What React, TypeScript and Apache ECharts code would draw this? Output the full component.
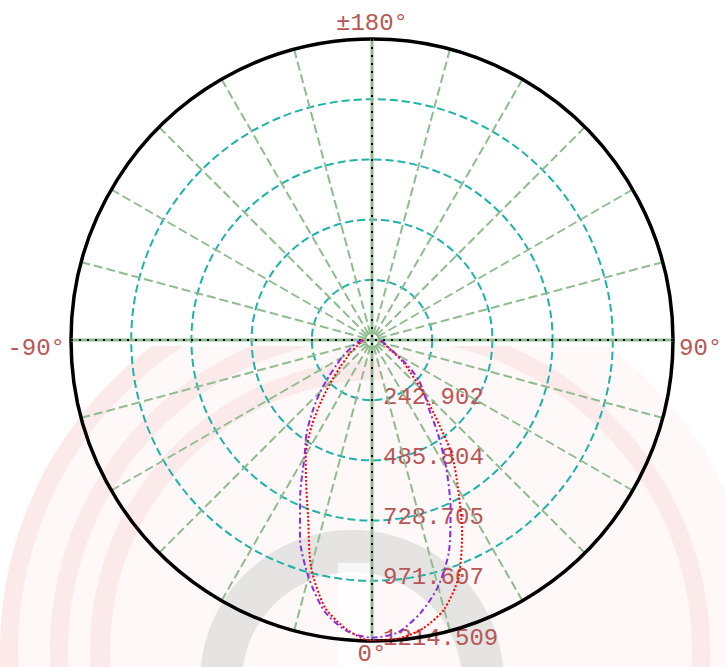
import React, { useEffect, useRef } from 'react';
import * as echarts from 'echarts';

// Angles in degrees (0 = downwards, +90 = right, -90 = left)
const ANGLES = [-90, -80, -70, -60, -55, -50, -45, -40, -35, -30, -25, -20, -15, -10, -5, 0, 5, 10, 15, 20, 25, 30, 35, 40, 45, 50, 55, 60, 70, 80, 90];
// Red dotted curve (intensity)
const RED = [35, 45, 60, 100, 125, 165, 225, 315, 425, 535, 630, 755, 950, 1095, 1172, 1214.509, 1210, 1182, 1125, 1020, 860, 695, 560, 390, 280, 200, 150, 100, 55, 40, 33];
// Purple dash-dot curve (intensity)
const PURPLE = [40, 60, 90, 140, 175, 225, 295, 372, 460, 545, 685, 850, 990, 1110, 1178, 1201, 1185, 1120, 1030, 908, 750, 600, 465, 354, 295, 240, 170, 110, 60, 45, 35];

const RADIUS_MAX = 1214.509;
const RING_STEP = RADIUS_MAX / 5;
const ANGLE_TICK_LABELS: Record<number, string> = { 0: '0°', 90: '90°', 180: '±180°', 270: '-90°' };

const LABEL_COLOR = '#b85656';
const FONT = '"Liberation Mono", "DejaVu Sans Mono", monospace';

const toPolar = (vals: number[]) => ANGLES.map((a, i) => [vals[i], a < 0 ? a + 360 : a]);

export default function App() {
  const ref = useRef<HTMLDivElement>(null);
  useEffect(() => {
    if (!ref.current) return;
    const chart = echarts.init(ref.current, null, { renderer: 'svg' });
    const wc = [380, 650];
    const pink = 'rgba(240,160,160,0.16)';
    const txt = { color: LABEL_COLOR, fontFamily: FONT, fontSize: 24 };
    chart.setOption({
      animation: false,
      backgroundColor: '#ffffff',
      graphic: {
        elements: [
          { type: 'circle', z: -100, silent: true, shape: { cx: wc[0], cy: wc[1], r: 380 }, style: { fill: 'rgba(245,190,190,0.10)' } },
          { type: 'sector', z: -99, silent: true, shape: { cx: wc[0], cy: wc[1], r0: 362, r: 380, startAngle: Math.PI * 0.5, endAngle: Math.PI * 1.5 }, style: { fill: pink } },
          { type: 'ring', z: -99, silent: true, shape: { cx: wc[0], cy: wc[1], r0: 312, r: 330 }, style: { fill: pink } },
          { type: 'sector', z: -99, silent: true, shape: { cx: wc[0], cy: wc[1], r0: 270, r: 290, startAngle: Math.PI * 0.5, endAngle: Math.PI * 1.5 }, style: { fill: pink } },
          { type: 'ring', z: -98, silent: true, shape: { cx: 352, cy: 682, r0: 110, r: 152 }, style: { fill: 'rgba(205,205,205,0.5)' } },
          { type: 'rect', z: -97, silent: true, shape: { x: 338, y: 563, width: 32, height: 110 }, style: { fill: 'rgba(255,255,255,0.7)' } },
          { type: 'rect', z: -50, silent: true, shape: { x: 0, y: 0, width: 726, height: 346 }, style: { fill: '#ffffff' } },
        ],
      },
      polar: { center: [372, 340], radius: 301 },
      angleAxis: {
        type: 'value',
        min: 0,
        max: 360,
        interval: 15,
        startAngle: 270,
        clockwise: false,
        z: 3,
        axisLine: { lineStyle: { color: '#000000', width: 3.5 } },
        axisTick: { show: false },
        axisLabel: {
          margin: 6,
          lineHeight: 20,
          formatter: (v: number) => {
            const t = ANGLE_TICK_LABELS[v];
            if (!t) return '';
            if (v === 90 || v === 270) return '{side|' + t + '}';
            if (v === 0) return '{bot|' + t + '}';
            return t;
          },
          ...txt,
          rich: {
            side: { ...txt, lineHeight: 20, padding: [16, 0, 0, 0] },
            bot: { ...txt, lineHeight: 20, padding: [0, 0, 6, 0] },
          },
        },
        splitLine: { show: true, lineStyle: { color: '#8fbc8f', type: [9, 4], width: 2 } },
      },
      radiusAxis: {
        type: 'value',
        min: 0,
        max: RADIUS_MAX,
        interval: RING_STEP,
        z: 1,
        axisLine: { show: false },
        axisTick: { show: false },
        axisLabel: {
          showMinLabel: false,
          margin: 11,
          formatter: (v: number) => '{r|' + v.toFixed(3) + '}',
          ...txt,
          rich: { r: { ...txt, lineHeight: 22, padding: [0, 0, 6, 0] } },
        },
        splitLine: { show: true, lineStyle: { color: '#20b2aa', type: [8, 4], width: 2 } },
      },
      series: [
        { type: 'line', coordinateSystem: 'polar', silent: true, symbol: 'none', data: [[RADIUS_MAX, 0], [RADIUS_MAX, 180]], lineStyle: { color: '#8fbc8f', width: 3 }, z: 4 },
        { type: 'line', coordinateSystem: 'polar', silent: true, symbol: 'none', data: [[RADIUS_MAX, 90], [RADIUS_MAX, 270]], lineStyle: { color: '#8fbc8f', width: 3 }, z: 4 },
        { type: 'line', coordinateSystem: 'polar', silent: true, symbol: 'none', data: [[RADIUS_MAX, 0], [RADIUS_MAX, 180]], lineStyle: { color: '#000000', width: 2, type: [2, 6] }, z: 5 },
        { type: 'line', coordinateSystem: 'polar', silent: true, symbol: 'none', data: [[RADIUS_MAX, 90], [RADIUS_MAX, 270]], lineStyle: { color: '#000000', width: 2, type: [2, 6] }, z: 5 },
        { name: 'red', type: 'line', coordinateSystem: 'polar', symbol: 'none', smooth: 0.25, data: toPolar(RED), lineStyle: { color: '#ff0000', width: 2, type: [2, 2] }, z: 6 },
        { name: 'purple', type: 'line', coordinateSystem: 'polar', symbol: 'none', smooth: 0.25, data: toPolar(PURPLE), lineStyle: { color: '#8a2be2', width: 2, type: [6, 3, 2, 3] }, z: 6 },
      ],
    });
    return () => chart.dispose();
  }, []);
  return <div ref={ref} style={{ position: 'fixed', left: 0, top: 0, width: 726, height: 667 }} />;
}
